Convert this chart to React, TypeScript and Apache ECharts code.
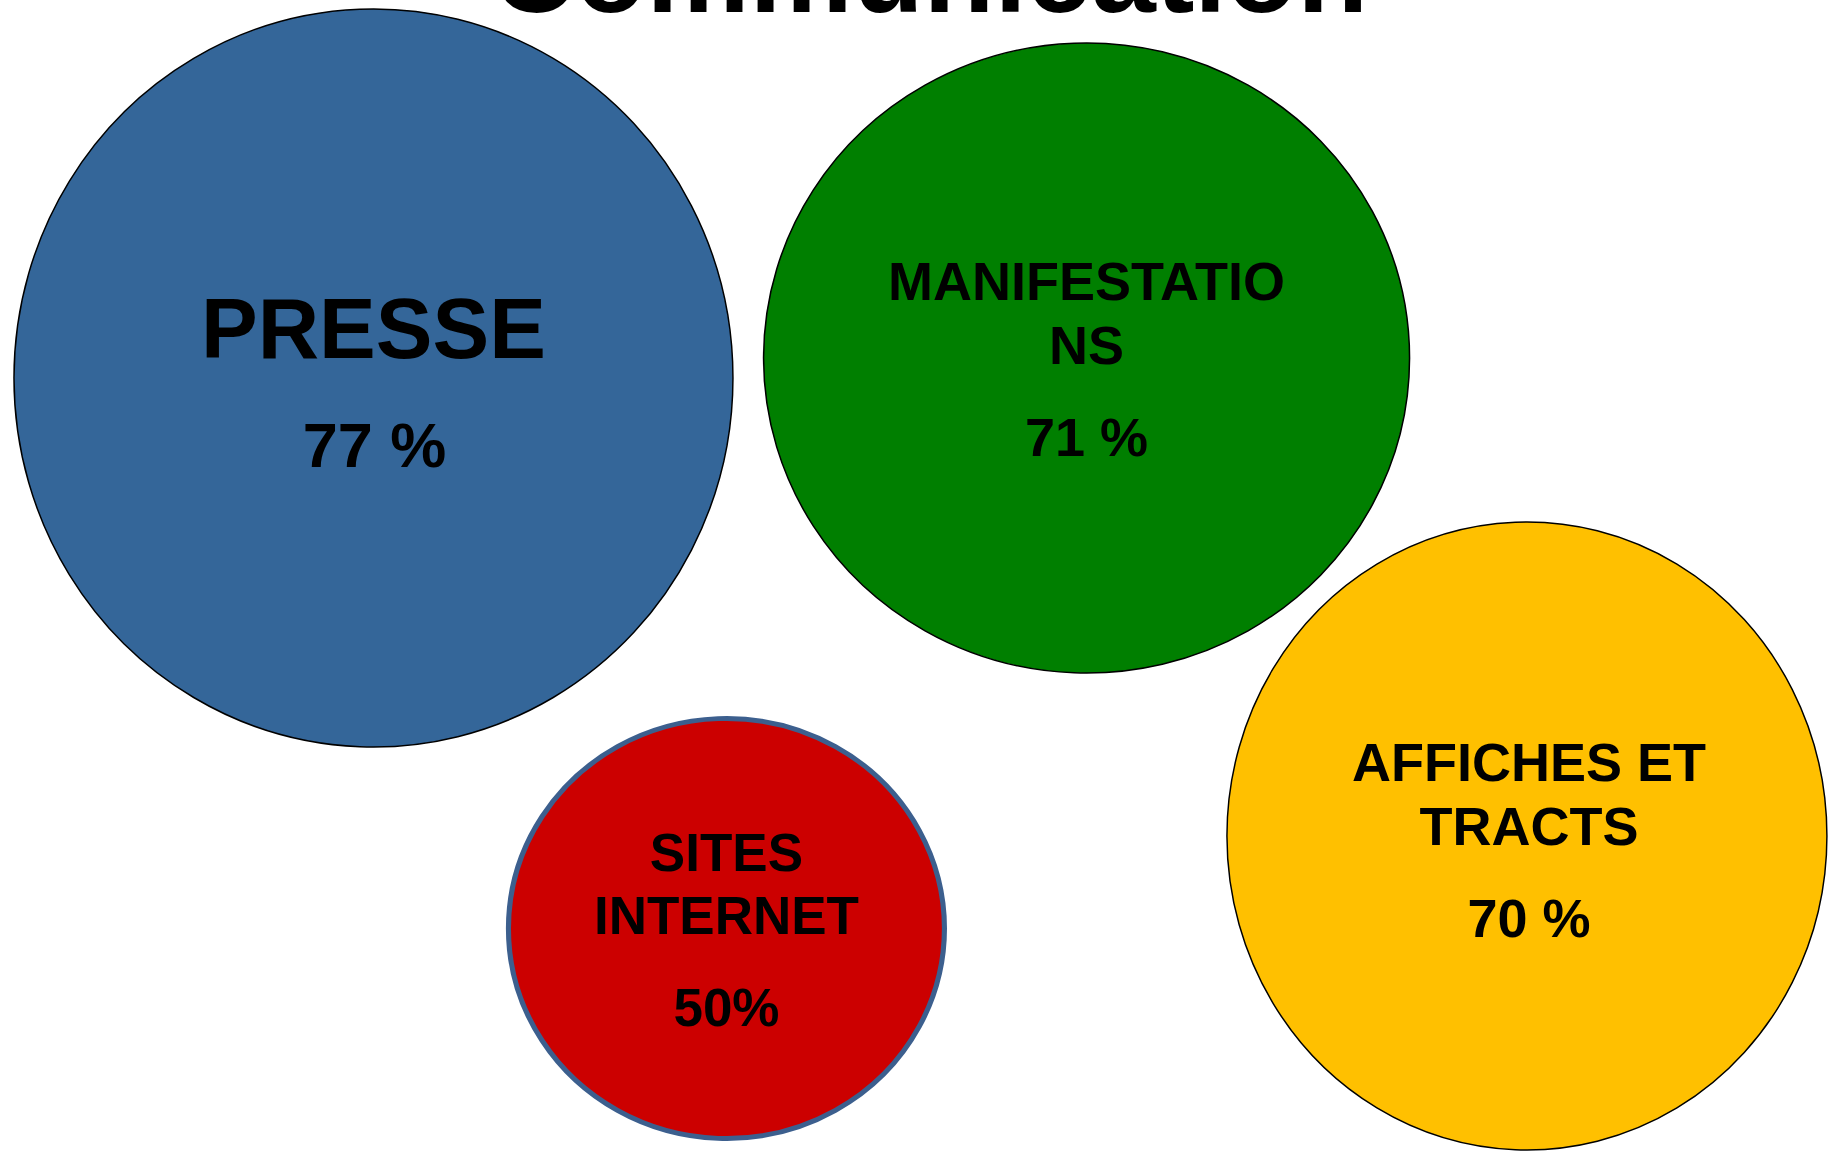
import React, { useEffect, useRef } from "react";
import * as echarts from "echarts";

// ---- data ----
const chartTitle = "Communication";
const categories = ["PRESSE", "MANIFESTATIONS", "SITES INTERNET", "AFFICHES ET TRACTS"];
// labels as written inside the bubbles (line breaks as in the original)
const categoryLabels = ["PRESSE", "MANIFESTATIO\nNS", "SITES\nINTERNET", "AFFICHES ET\nTRACTS"];
const values = [77, 71, 50, 70];
const valueLabels = ["77 %", "71 %", "50%", "70 %"];
// bubble positions in the chart's data space (0–100 on both axes)
const bubbleX = [20.43, 59.44, 39.74, 83.53];
const bubbleY = [32.81, 31.08, 80.6, 72.57];

// ---- styles ----
const FONT = '"Liberation Sans", Arial, Helvetica, sans-serif';
const fillColors = ["#346699", "#007F00", "#CC0000", "#FFC000"];
const borderColors = ["#000000", "#000000", "#3C5F8E", "#000000"];
const borderWidths = [1.5, 1.5, 5, 1.5];
const symbolSizes = [
  [719, 738],
  [646, 630],
  [436, 420],
  [600, 628],
];
const nameFontSizes = [85, 54, 53, 54];
const nameLineHeights = [100, 64, 63.5, 64];
const nameOffsets = [
  [0, -49],
  [0, -45],
  [0, -44.5],
  [2, -42.5],
];
const valueFontSizes = [63, 54, 53, 54];
const valueOffsets = [
  [1, 67],
  [0, 79],
  [0, 78.5],
  [2, 81.5],
];

export default function App() {
  const ref = useRef<HTMLDivElement>(null);

  useEffect(() => {
    if (!ref.current) return;
    const chart = echarts.init(ref.current, undefined, { renderer: "svg" });

    const bubbleData = categories.map((name, i) => ({
      name,
      value: [bubbleX[i], bubbleY[i], values[i]],
      symbolSize: symbolSizes[i],
      itemStyle: {
        color: fillColors[i],
        borderColor: borderColors[i],
        borderWidth: borderWidths[i],
        opacity: 1,
      },
      label: {
        show: true,
        position: "inside",
        formatter: categoryLabels[i],
        fontSize: nameFontSizes[i],
        lineHeight: nameLineHeights[i],
        offset: nameOffsets[i],
      },
    }));

    const valueData = categories.map((name, i) => ({
      name,
      value: [bubbleX[i], bubbleY[i], values[i]],
      label: {
        show: true,
        position: "inside",
        formatter: valueLabels[i],
        fontSize: valueFontSizes[i],
        offset: valueOffsets[i],
      },
    }));

    chart.setOption({
      animation: false,
      backgroundColor: "#ffffff",
      grid: { left: 0, right: 0, top: 0, bottom: 0 },
      xAxis: { type: "value", min: 0, max: 100, show: false },
      yAxis: { type: "value", min: 0, max: 100, inverse: true, show: false },
      graphic: [
        {
          type: "text",
          x: 930,
          y: -27.7,
          z: 100,
          style: {
            text: chartTitle,
            fontFamily: FONT,
            fontWeight: "bold",
            fontSize: 116,
            fill: "#000000",
            align: "center",
            verticalAlign: "middle",
          },
        },
      ],
      series: [
        {
          type: "scatter",
          symbol: "circle",
          data: bubbleData,
          silent: true,
          label: {
            color: "#000000",
            fontFamily: FONT,
            fontWeight: "bold",
            align: "center",
            verticalAlign: "middle",
            opacity: 1,
          },
          emphasis: { disabled: true },
          z: 2,
        },
        {
          type: "scatter",
          symbol: "circle",
          symbolSize: 1,
          data: valueData,
          silent: true,
          itemStyle: { color: "rgba(0,0,0,0)", borderWidth: 0, opacity: 1 },
          label: {
            color: "#000000",
            fontFamily: FONT,
            fontWeight: "bold",
            align: "center",
            verticalAlign: "middle",
            opacity: 1,
          },
          emphasis: { disabled: true },
          z: 3,
        },
      ],
    });

    return () => chart.dispose();
  }, []);

  return (
    <div
      ref={ref}
      style={{
        position: "absolute",
        left: 0,
        top: 0,
        width: 1828,
        height: 1152,
        background: "#ffffff",
      }}
    />
  );
}
